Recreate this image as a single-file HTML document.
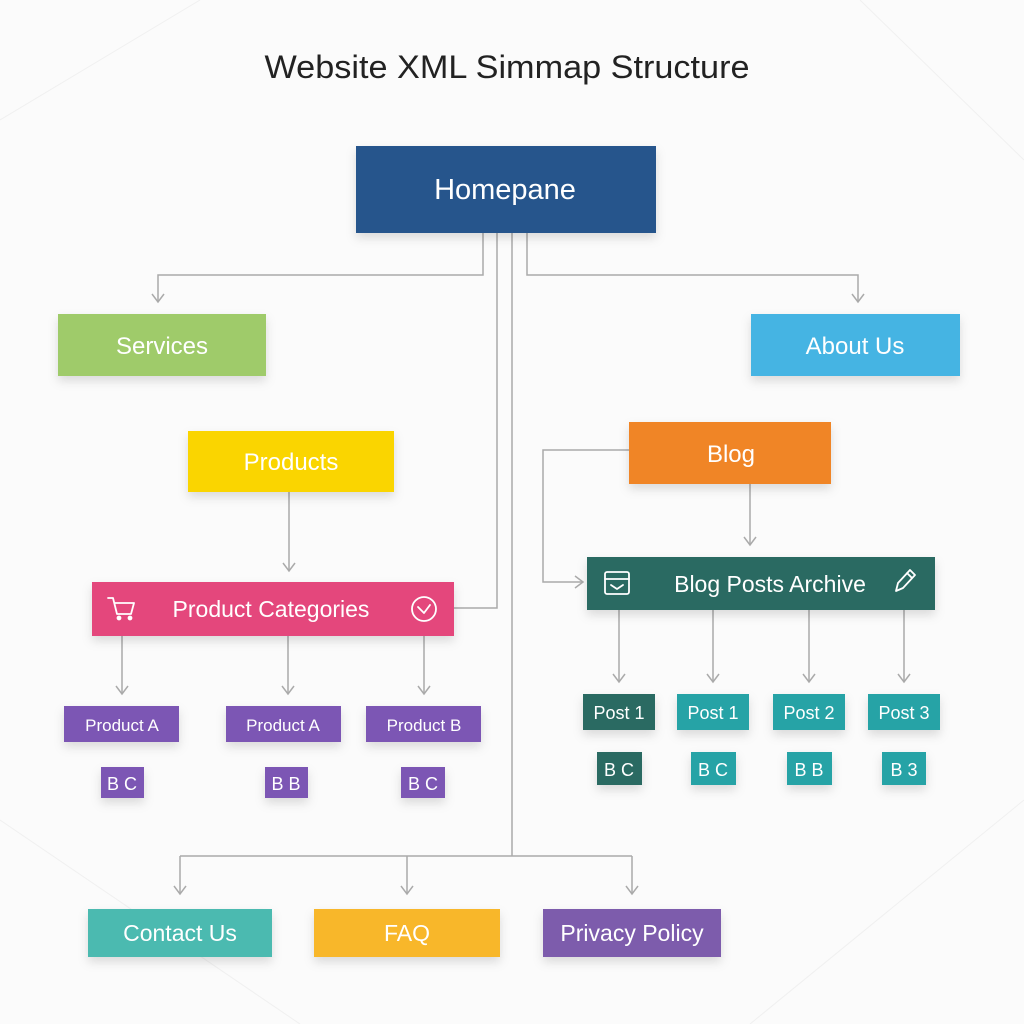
<!DOCTYPE html>
<html><head><meta charset="utf-8"><style>
html,body{margin:0;padding:0;background:#fbfbfb;}
svg{display:block;font-family:"Liberation Sans",sans-serif;}
</style></head><body>
<svg width="1024" height="1024" viewBox="0 0 1024 1024" xmlns="http://www.w3.org/2000/svg">
<defs>
<filter id="sh" x="-20%" y="-20%" width="140%" height="160%"><feDropShadow dx="0" dy="5" stdDeviation="5" flood-color="#000" flood-opacity="0.13"/></filter>
<marker id="ar" markerWidth="14" markerHeight="14" refX="11" refY="7" orient="auto" markerUnits="userSpaceOnUse" viewBox="0 0 14 14">
<path d="M3 1 L11 7 L3 13" fill="none" stroke="#aaa" stroke-width="1.5"/></marker>
</defs>
<rect width="1024" height="1024" fill="#fbfbfb"/>
<g stroke="#f0f0f0" stroke-width="1" fill="none">
<path d="M0 120 L200 0 M860 0 L1024 160 M0 820 L300 1024 M750 1024 L1024 800"/>
</g>
<text x="507" y="78" text-anchor="middle" font-size="32" fill="#222" textLength="485" lengthAdjust="spacingAndGlyphs">Website XML Simmap Structure</text>

<g fill="none" stroke="#aaa" stroke-width="1.5">
<path d="M483 233 V275 H158 V302" marker-end="url(#ar)"/>
<path d="M527 233 V275 H858 V302" marker-end="url(#ar)"/>
<path d="M497 233 V608 H454"/>
<path d="M512 233 V856"/>
<path d="M180 856 H632"/>
<path d="M180 856 V894" marker-end="url(#ar)"/>
<path d="M407 856 V894" marker-end="url(#ar)"/>
<path d="M632 856 V894" marker-end="url(#ar)"/>
<path d="M289 492 V571" marker-end="url(#ar)"/>
<path d="M122 636 V694" marker-end="url(#ar)"/>
<path d="M288 636 V694" marker-end="url(#ar)"/>
<path d="M424 636 V694" marker-end="url(#ar)"/>
<path d="M629 450 H543 V582 H583" marker-end="url(#ar)"/>
<path d="M750 484 V545" marker-end="url(#ar)"/>
<path d="M619 610 V682" marker-end="url(#ar)"/>
<path d="M713 610 V682" marker-end="url(#ar)"/>
<path d="M809 610 V682" marker-end="url(#ar)"/>
<path d="M904 610 V682" marker-end="url(#ar)"/>
</g>

<g filter="url(#sh)">
<rect x="356" y="146" width="300" height="87" fill="#25548c"/>
<rect x="58" y="314" width="208" height="62" fill="#9fcb6b"/>
<rect x="751" y="314" width="209" height="62" fill="#45b4e3"/>
<rect x="188" y="431" width="206" height="61" fill="#fad502"/>
<rect x="629" y="422" width="202" height="62" fill="#f08528"/>
<rect x="92" y="582" width="362" height="54" fill="#e4467b"/>
<rect x="587" y="557" width="348" height="53" fill="#2a6b62"/>
<rect x="64" y="706" width="115" height="36" fill="#7b56b4"/>
<rect x="226" y="706" width="115" height="36" fill="#7b56b4"/>
<rect x="366" y="706" width="115" height="36" fill="#7b56b4"/>
<rect x="101" y="767" width="43" height="31" fill="#7b56b4"/>
<rect x="265" y="767" width="43" height="31" fill="#7b56b4"/>
<rect x="401" y="767" width="44" height="31" fill="#7b56b4"/>
<rect x="583" y="694" width="72" height="36" fill="#2a6b62"/>
<rect x="677" y="694" width="72" height="36" fill="#26a3a6"/>
<rect x="773" y="694" width="72" height="36" fill="#26a3a6"/>
<rect x="868" y="694" width="72" height="36" fill="#26a3a6"/>
<rect x="597" y="752" width="45" height="33" fill="#2a6b62"/>
<rect x="691" y="752" width="45" height="33" fill="#26a3a6"/>
<rect x="787" y="752" width="45" height="33" fill="#26a3a6"/>
<rect x="882" y="752" width="44" height="33" fill="#26a3a6"/>
<rect x="88" y="909" width="184" height="48" fill="#4bbab0"/>
<rect x="314" y="909" width="186" height="48" fill="#f8b729"/>
<rect x="543" y="909" width="178" height="48" fill="#7d5bac"/>
</g>

<g fill="#fff" text-anchor="middle">
<text x="505" y="199" font-size="29">Homepane</text>
<text x="162" y="354" font-size="24">Services</text>
<text x="855" y="354" font-size="24">About Us</text>
<text x="291" y="470" font-size="24">Products</text>
<text x="731" y="462" font-size="24">Blog</text>
<text x="271" y="617" font-size="23">Product Categories</text>
<text x="770" y="592" font-size="23">Blog Posts Archive</text>
<text x="122" y="731" font-size="17">Product A</text>
<text x="283" y="731" font-size="17">Product A</text>
<text x="424" y="731" font-size="17">Product B</text>
<text x="122" y="790" font-size="18">B C</text>
<text x="286" y="790" font-size="18">B B</text>
<text x="423" y="790" font-size="18">B C</text>
<text x="619" y="719" font-size="18">Post 1</text>
<text x="713" y="719" font-size="18">Post 1</text>
<text x="809" y="719" font-size="18">Post 2</text>
<text x="904" y="719" font-size="18">Post 3</text>
<text x="619" y="776" font-size="18">B C</text>
<text x="713" y="776" font-size="18">B C</text>
<text x="809" y="776" font-size="18">B B</text>
<text x="904" y="776" font-size="18">B 3</text>
<text x="180" y="941" font-size="23">Contact Us</text>
<text x="407" y="941" font-size="23">FAQ</text>
<text x="632" y="941" font-size="23">Privacy Policy</text>
</g>

<g fill="none" stroke="#fff" stroke-width="1.8" stroke-linecap="round" stroke-linejoin="round">
<path d="M108 598 H113 L117 614 H131 L134 603 H115"/>
<circle cx="119" cy="618" r="1.5" fill="#fff"/><circle cx="130" cy="618" r="1.5" fill="#fff"/>
<circle cx="424" cy="609" r="12"/>
<path d="M418 607 L424 613 L430 605"/>
<rect x="605" y="572" width="24" height="22" rx="2"/>
<path d="M605 579 H629 M611 585 L617 589 L623 585"/>
<path d="M896 591 L898 583 L910 570 L915 575 L903 588 Z M907 573 L912 578"/>
</g>
</svg>
</body></html>
